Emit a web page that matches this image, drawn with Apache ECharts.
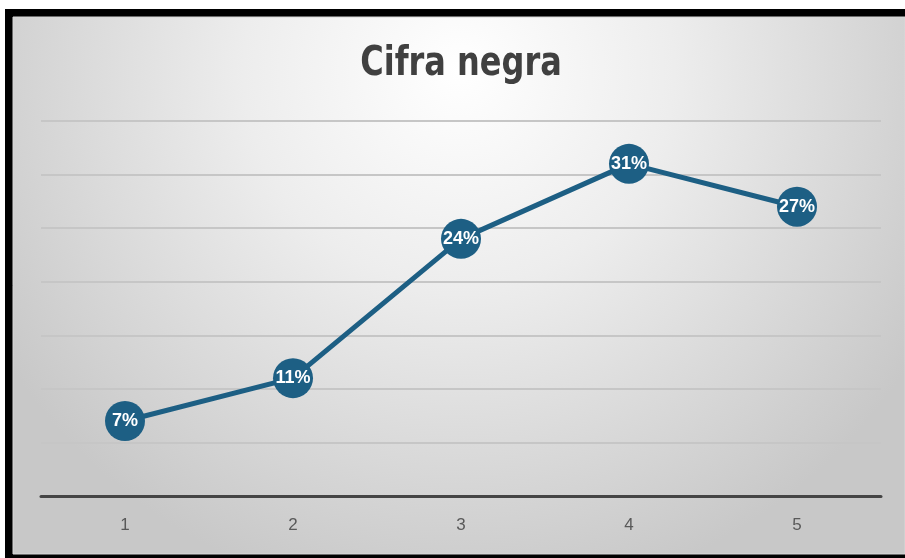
<!DOCTYPE html>
<html><head><meta charset="utf-8">
<script src="https://cdn.jsdelivr.net/npm/echarts@6/dist/echarts.min.js"></script>
<style>html,body{margin:0;padding:0;background:#fff}#c{width:905px;height:558px}</style>
</head><body><div id="c"></div>
<script>
const categories = ['1', '2', '3', '4', '5'];
const values = [0.07, 0.11, 0.24, 0.31, 0.27];
const labels = ['7%', '11%', '24%', '31%', '27%'];
const titleText = 'Cifra negra';

const chart = echarts.init(document.getElementById('c'));
chart.setOption({
  animation: false,
  graphic: [
    { type: 'rect', z: -10, silent: true, shape: { x: 5, y: 9, width: 905, height: 549 }, style: { fill: '#000' } },
    { type: 'rect', z: -9, silent: true, shape: { x: 13, y: 17, width: 892, height: 537 },
      style: { fill: { type: 'radial', x: 0.5, y: 0.1, r: 1.0, colorStops: [
        { offset: 0, color: '#ffffff' }, { offset: 0.4, color: '#ededed' }, { offset: 1, color: '#c8c8c8' }] },
        stroke: '#d8d8d8', lineWidth: 1 } },
    { type: 'text', z: 10, silent: true, x: 461, y: 65, scaleX: 0.8, originX: 0, originY: 0,
      style: { text: titleText, align: 'center', verticalAlign: 'middle',
        font: 'bold 40px "DejaVu Sans", sans-serif', fill: '#404040' } }
  ],
  grid: { left: 41, right: 24, top: 121, bottom: 62 },
  xAxis: {
    type: 'category', data: categories, boundaryGap: true,
    axisLine: { lineStyle: { color: '#454545', width: 3 } },
    axisTick: { show: false },
    axisLabel: { color: '#595959', fontSize: 17, fontFamily: '"Liberation Sans","DejaVu Sans",sans-serif', margin: 21 }
  },
  yAxis: {
    type: 'value', min: 0, max: 0.35, interval: 0.05,
    axisLine: { show: false }, axisTick: { show: false }, axisLabel: { show: false },
    splitLine: { lineStyle: { color: '#c6c6c6', width: 2 } }
  },
  series: [{
    type: 'line', data: values,
    lineStyle: { color: '#1d5f84', width: 5 },
    itemStyle: { color: '#1d5f84' },
    symbol: 'circle', symbolSize: 40,
    label: {
      show: true, position: 'inside', color: '#fff', fontWeight: 'bold', fontSize: 18,
      fontFamily: '"Liberation Sans","DejaVu Sans",sans-serif',
      formatter: p => labels[p.dataIndex]
    }
  }]
});
</script></body></html>
